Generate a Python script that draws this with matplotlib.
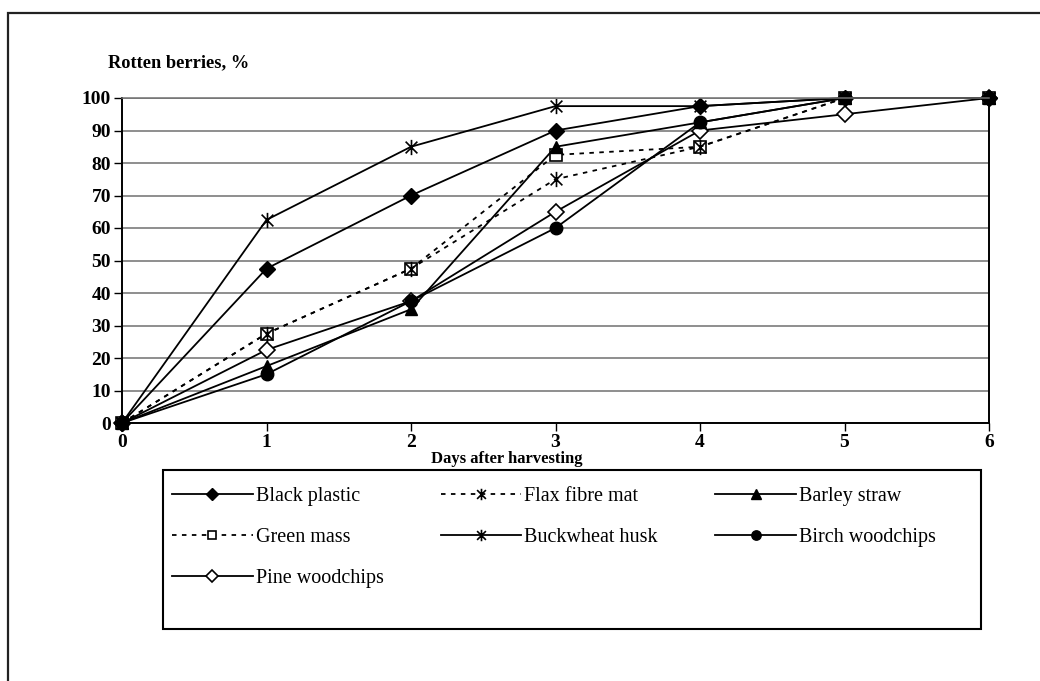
import matplotlib
matplotlib.use('Agg')
import matplotlib.pyplot as plt
from matplotlib.path import Path
from matplotlib.patches import Rectangle

days = [0, 1, 2, 3, 4, 5, 6]

black_plastic = [0, 47.5, 70, 90, 97.5, 100, 100]
flax_fibre_mat = [0, 27.5, 47.5, 75, 85, 100, 100]
barley_straw = [0, 17.5, 35, 85, 92.5, 100, 100]
green_mass = [0, 27.5, 47.5, 82.5, 85, 100, 100]
buckwheat_husk = [0, 62.5, 85, 97.5, 97.5, 100, 100]
birch_woodchips = [0, 15, 37.5, 60, 92.5, 100, 100]
pine_woodchips = [0, 22.5, 37.5, 65, 90, 95, 100]

y_ticks = [0, 10, 20, 30, 40, 50, 60, 70, 80, 90, 100]

plt.rcParams['font.family'] = ['Liberation Serif', 'DejaVu Serif']

# excel-like star: X plus vertical bar
star = Path([(-1, -1), (1, 1), (-1, 1), (1, -1), (0, -1.3), (0, 1.3)],
            [Path.MOVETO, Path.LINETO, Path.MOVETO, Path.LINETO, Path.MOVETO, Path.LINETO])

fig = plt.figure(figsize=(10.4, 6.81), dpi=100)
W, H = 1040.0, 681.0
ax = fig.add_axes([122 / W, 1 - 423 / H, (989 - 122) / W, (423 - 98) / H])

dash = (0, (2.5, 3))
lw = 1.3
# drawing order chosen so overlapping markers stack like the original
series = [
    ('Pine woodchips', pine_woodchips, dict(marker='D', ms=8, mfc='white', mew=1.2, ls='-')),
    ('Green mass', green_mass, dict(marker='s', ms=8, mfc='white', mew=1.2, ls=dash)),
    ('Barley straw', barley_straw, dict(marker='^', ms=9, mfc='black', ls='-')),
    ('Birch woodchips', birch_woodchips, dict(marker='o', ms=9, mfc='black', ls='-')),
    ('Black plastic', black_plastic, dict(marker='D', ms=8, mfc='black', ls='-')),
    ('Flax fibre mat', flax_fibre_mat, dict(marker=star, ms=11, mfc='none', mew=1.2, ls=dash)),
    ('Buckwheat husk', buckwheat_husk, dict(marker=star, ms=11, mfc='none', mew=1.2, ls='-')),
]

handles = {}
for name, vals, kw in series:
    h, = ax.plot(days, vals, color='black', mec='black', lw=lw, label=name, clip_on=False, **kw)
    handles[name] = h

ax.set_xlim(0, 6)
ax.set_ylim(0, 100)
ax.set_xticks(days)
ax.set_yticks(y_ticks)
ax.yaxis.grid(True, color='#707070', lw=1.1)
ax.set_axisbelow(True)
for s in ax.spines.values():
    s.set_color('black')
    s.set_linewidth(1.4)
ax.spines['top'].set_color('#707070')
ax.spines['top'].set_linewidth(1.1)
ax.tick_params(direction='out', length=6, width=1, colors='black', labelsize=14)
ax.tick_params(axis='x', pad=2)
ax.tick_params(axis='y', pad=2)
for t in ax.get_xticklabels() + ax.get_yticklabels():
    t.set_fontweight('bold')

fig.text(108 / W, 1 - 63 / H, 'Rotten berries, %', fontsize=13.2, fontweight='bold', ha='left', va='center')
fig.text(507 / W, 1 - 459 / H, 'Days after harvesting', fontsize=12, fontweight='bold', ha='center', va='center')

order = ['Black plastic', 'Green mass', 'Pine woodchips', 'Flax fibre mat', 'Buckwheat husk',
         'Barley straw', 'Birch woodchips']
leg = fig.legend([handles[n] for n in order], order, ncol=3, loc='upper left',
                 bbox_to_anchor=(172 / W, 1 - 487 / H), borderaxespad=0, borderpad=0,
                 fontsize=14.5, frameon=False, handlelength=4.0, handletextpad=0.15,
                 labelspacing=1.08, columnspacing=2.85, markerscale=0.75)

fig.patches.append(Rectangle((163 / W, 1 - 629 / H), (981 - 163) / W, (629 - 470) / H,
                             transform=fig.transFigure, fill=False, edgecolor='black', lw=1.5))
fig.patches.append(Rectangle((8 / W, -0.1), 1.2, 1.1 - 13 / H, transform=fig.transFigure,
                             fill=False, edgecolor='#222222', lw=1.6))

fig.savefig('out.png', dpi=100)
